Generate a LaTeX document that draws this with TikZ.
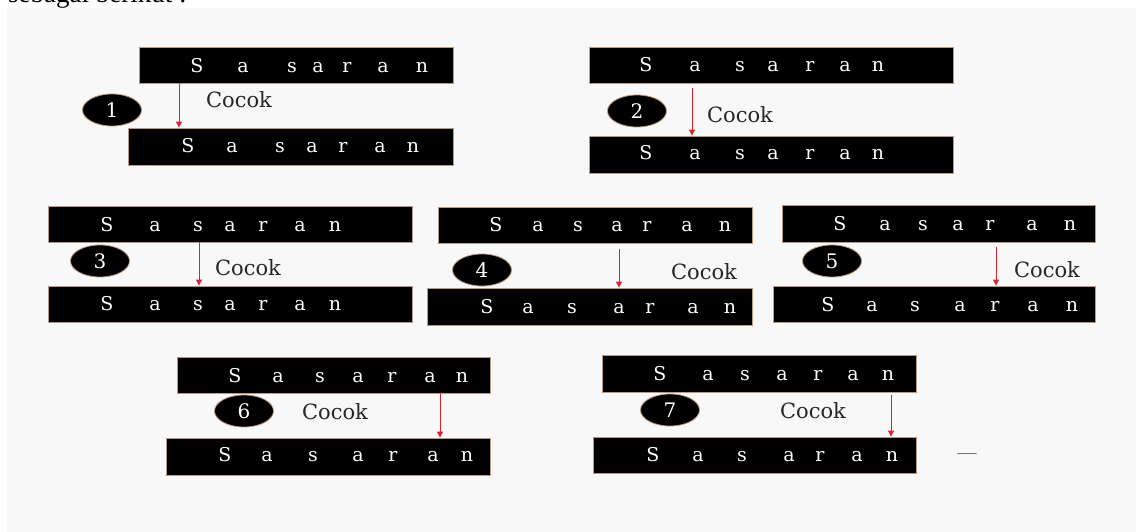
\documentclass[tikz,border=0pt]{standalone}
\usepackage{fontspec}
\setmainfont{DejaVu Serif}
\newfontfamily\timesf{Liberation Serif}
\usetikzlibrary{shapes.geometric,arrows.meta}
\definecolor{bg}{HTML}{F8F8F8}
\definecolor{rim}{HTML}{B89A80}
\definecolor{arrred}{HTML}{E0202A}
\tikzset{
  box/.style={fill=black, draw=rim, line width=0.8pt, inner sep=0pt},
  lett/.style={text=white, font=\fontsize{19}{19}\selectfont, anchor=base, inner sep=0pt},
  num/.style={ellipse, fill=black, draw=rim, line width=0.8pt, text=white,
    font=\fontsize{20}{20}\selectfont, inner sep=0pt, minimum width=59pt, minimum height=32pt},
  cocok/.style={font=\fontsize{21}{21}\selectfont, text=black!85, inner sep=0pt},
  arr/.style={draw=arrred, line width=0.9pt, -{Triangle[length=6pt,width=6pt]}}
}
% name, x1, x2, y1, y2
\newcommand\mkbox[5]{%
  \node[box, minimum width={#3-#2}, minimum height={#5-#4}] (#1) at ({(#2+#3)/2},{(#4+#5)/2}) {};}
% name, baseline, positions
\newcommand\mkrow[3]{%
  \foreach \xx/\ll [count=\ii] in {#3} {\node[lett] (#1-\ii) at (\xx,#2) {\ll};}}
\begin{document}
\begin{tikzpicture}[x=1pt,y=-1pt]
\useasboundingbox (0,0) rectangle (1136,532);
\fill[white] (0,0) rectangle (1136,532);
\fill[bg] (7,8) rectangle (1136,532);
\begin{scope}
  \clip (0,0) rectangle (1136,532);
  \node[anchor=base west, inner sep=0pt, font=\timesf\fontsize{27}{27}\selectfont] (head) at (8,3) {sebagai berikut :};
\end{scope}

% ---- 1
\mkbox{b1t}{139}{453}{47}{83}
\mkbox{b1b}{128}{453}{128}{165}
\mkrow{l1t}{73}{197/S,243/a,292/s,318/a,347/r,383/a,422/n}
\mkrow{l1b}{153}{188/S,232/a,280/s,312/a,343/r,380/a,413/n}
\node[num] (n1) at (112,110) {1};
\node[cocok] (c1) at (239,100) {Cocok};
\draw[arr] (179,0 |- b1t.south) -- (179,0 |- b1b.north);

% ---- 2
\mkbox{b2t}{589}{953}{47}{83}
\mkbox{b2b}{589}{953}{136}{173}
\mkrow{l2t}{72}{646/S,695/a,740/s,773/a,810/r,845/a,878/n}
\mkrow{l2b}{160}{646/S,695/a,740/s,773/a,810/r,845/a,878/n}
\node[num] (n2) at (637,111) {2};
\node[cocok] (c2) at (740,115) {Cocok};
\draw[arr] (692,88) -- (692,0 |- b2b.north);

% ---- 3
\mkbox{b3t}{48}{412}{206}{242}
\mkbox{b3b}{48}{412}{286}{322}
\mkrow{l3t}{231}{107/S,155/a,198/s,230/a,263/r,300/a,335/n}
\mkrow{l3b}{310}{107/S,155/a,198/s,230/a,263/r,300/a,335/n}
\node[num] (n3) at (100,261) {3};
\node[cocok] (c3) at (248,268) {Cocok};
\draw[arr] (199,0 |- b3t.south) -- (199,0 |- b3b.north);

% ---- 4
\mkbox{b4t}{438}{752}{207}{243}
\mkbox{b4b}{427}{752}{288}{325}
\mkrow{l4t}{232}{496/S,538/a,578/s,617/a,647/r,687/a,725/n}
\mkrow{l4b}{313}{487/S,528/a,572/s,619/a,650/r,693/a,730/n}
\node[num] (n4) at (482,270) {4};
\node[cocok] (c4) at (704,272) {Cocok};
\draw[arr] (619,249) -- (619,0 |- b4b.north);

% ---- 5
\mkbox{b5t}{782}{1095}{205}{242}
\mkbox{b5b}{773}{1095}{286}{322}
\mkrow{l5t}{230}{840/S,885/a,923/s,958/a,990/r,1032/a,1070/n}
\mkrow{l5b}{311}{828/S,872/a,915/s,960/a,995/r,1033/a,1072/n}
\node[num] (n5) at (832,261) {5};
\node[cocok] (c5) at (1047,270) {Cocok};
\draw[arr] (996,247) -- (996,0 |- b5b.north);

% ---- 6
\mkbox{b6t}{177}{490}{357}{393}
\mkbox{b6b}{166}{490}{438}{475}
\mkrow{l6t}{382}{235/S,278/a,320/s,358/a,392/r,430/a,462/n}
\mkrow{l6b}{461}{225/S,267/a,313/s,358/a,393/r,433/a,467/n}
\node[num] (n6) at (244,411) {6};
\node[cocok] (c6) at (335,412) {Cocok};
\draw[arr] (440,0 |- b6t.south) -- (440,0 |- b6b.north);

% ---- 7
\mkbox{b7t}{602}{916}{355}{392}
\mkbox{b7b}{593}{916}{437}{473}
\mkrow{l7t}{380}{660/S,708/a,745/s,782/a,818/r,853/a,888/n}
\mkrow{l7b}{461}{653/S,698/a,742/s,789/a,820/r,857/a,892/n}
\node[num] (n7) at (670,410) {7};
\node[cocok] (c7) at (813,411) {Cocok};
\draw[arr] (891,395) -- (891,0 |- b7b.north);

\node[inner sep=0pt, text=black!60, font=\timesf\fontsize{19}{19}\selectfont] (dash) at (967,456) {—};
\end{tikzpicture}
\end{document}
